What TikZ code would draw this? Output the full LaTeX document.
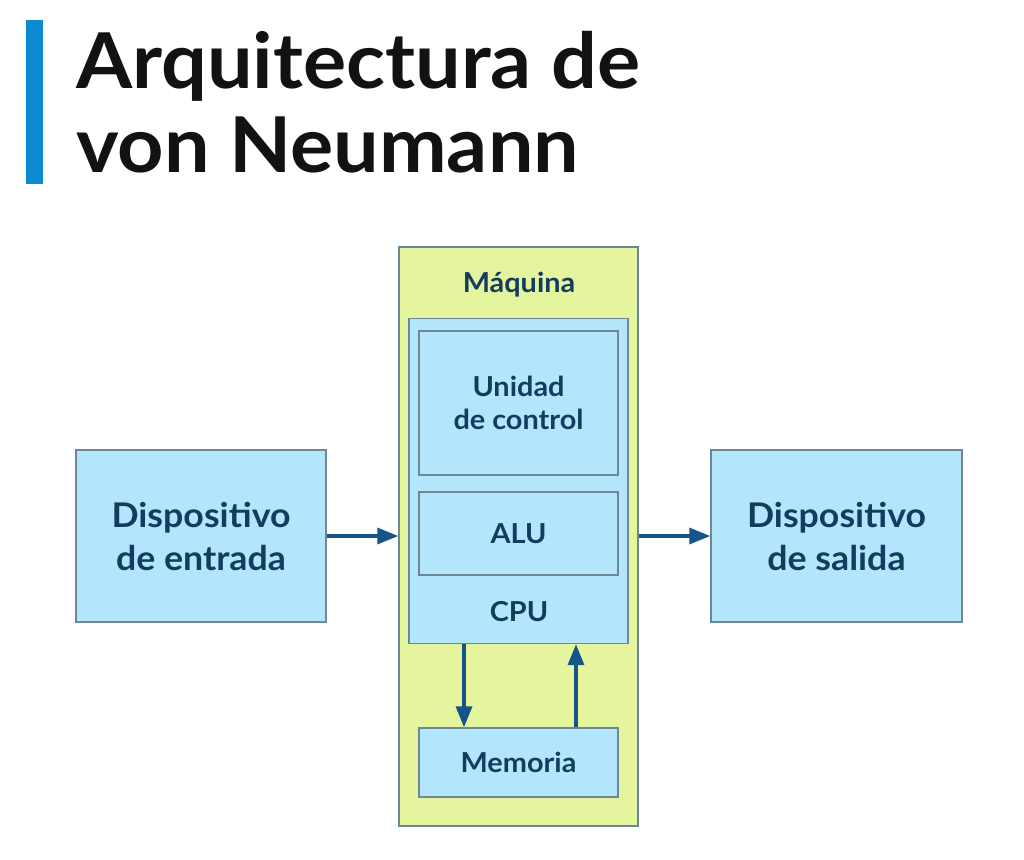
\documentclass[tikz,border=0pt]{standalone}
\usepackage{fontspec}
\setmainfont{Lato}[FakeStretch=1.05]
\usetikzlibrary{arrows.meta, positioning}

\definecolor{boxblue}{HTML}{B3E5FC}
\definecolor{maqgreen}{HTML}{E4F59E}
\definecolor{edgegray}{HTML}{6C8796}
\definecolor{txtnavy}{HTML}{143C5E}
\definecolor{arrblue}{HTML}{17548A}
\definecolor{barblue}{HTML}{0D8BD1}

\begin{document}
\begin{tikzpicture}[x=1pt, y=-1pt,
					>={Triangle[length=21pt, width=16pt]},
					box/.style={draw=edgegray, line width=1.4pt, fill=boxblue,
						text=txtnavy, align=center, font=\bfseries},
					big/.style={font=\bfseries\fontsize{34}{43}\selectfont},
					small/.style={font=\bfseries\fontsize{27.5}{33}\selectfont},
					link/.style={->, arrblue, line width=3.4pt}]

\useasboundingbox (0,0) rectangle (1024,859);

\fill[barblue] (26,20) rectangle (43,184);
\node[anchor=base west, inner sep=0pt, font=\bfseries\fontsize{77}{85}\selectfont, text=black!93] (title1) at (76,88) {Arquitectura de};
\node[anchor=base west, inner sep=0pt, font=\bfseries\fontsize{77}{85}\selectfont, text=black!93] (title2) at (76,172) {von Neumann};

\node[box, fill=maqgreen, minimum width=239pt, minimum height=579pt] (maq) at (518.5,536.5) {};
\node[anchor=base, inner sep=0pt, text=txtnavy, small] (maqlabel) at (519,292) {Máquina};
\node[box, minimum width=219pt, minimum height=325pt] (cpu) at (518.5,481) {};
\node[box, small, minimum width=199pt, minimum height=144pt] (uc) at (518.5,403) {Unidad\\de control};
\node[box, small, minimum width=199pt, minimum height=83pt] (alu) at (518.5,533.5) {ALU};
\node[anchor=base, inner sep=0pt, text=txtnavy, small] (cpulabel) at (519,621) {CPU};
\node[box, small, minimum width=199pt, minimum height=69pt] (mem) at (518.5,762.5) {Memoria};

\node[box, big, minimum width=250pt, minimum height=172pt] (in) at (201,536) {Dispositivo\\de entrada};
\node[box, big, minimum width=251pt, minimum height=172pt] (out) at (836.5,536) {Dispositivo\\de salida};

\draw[link] (in.east) -- (in.east -| maq.west);
\draw[link] (out.west -| maq.east) -- (out.west);
\draw[link] ([xshift=-54.5pt]cpu.south) -- ([xshift=-54.5pt]mem.north);
\draw[link] ([xshift=57.5pt]mem.north) -- ([xshift=57.5pt]cpu.south);
\end{tikzpicture}
\end{document}
